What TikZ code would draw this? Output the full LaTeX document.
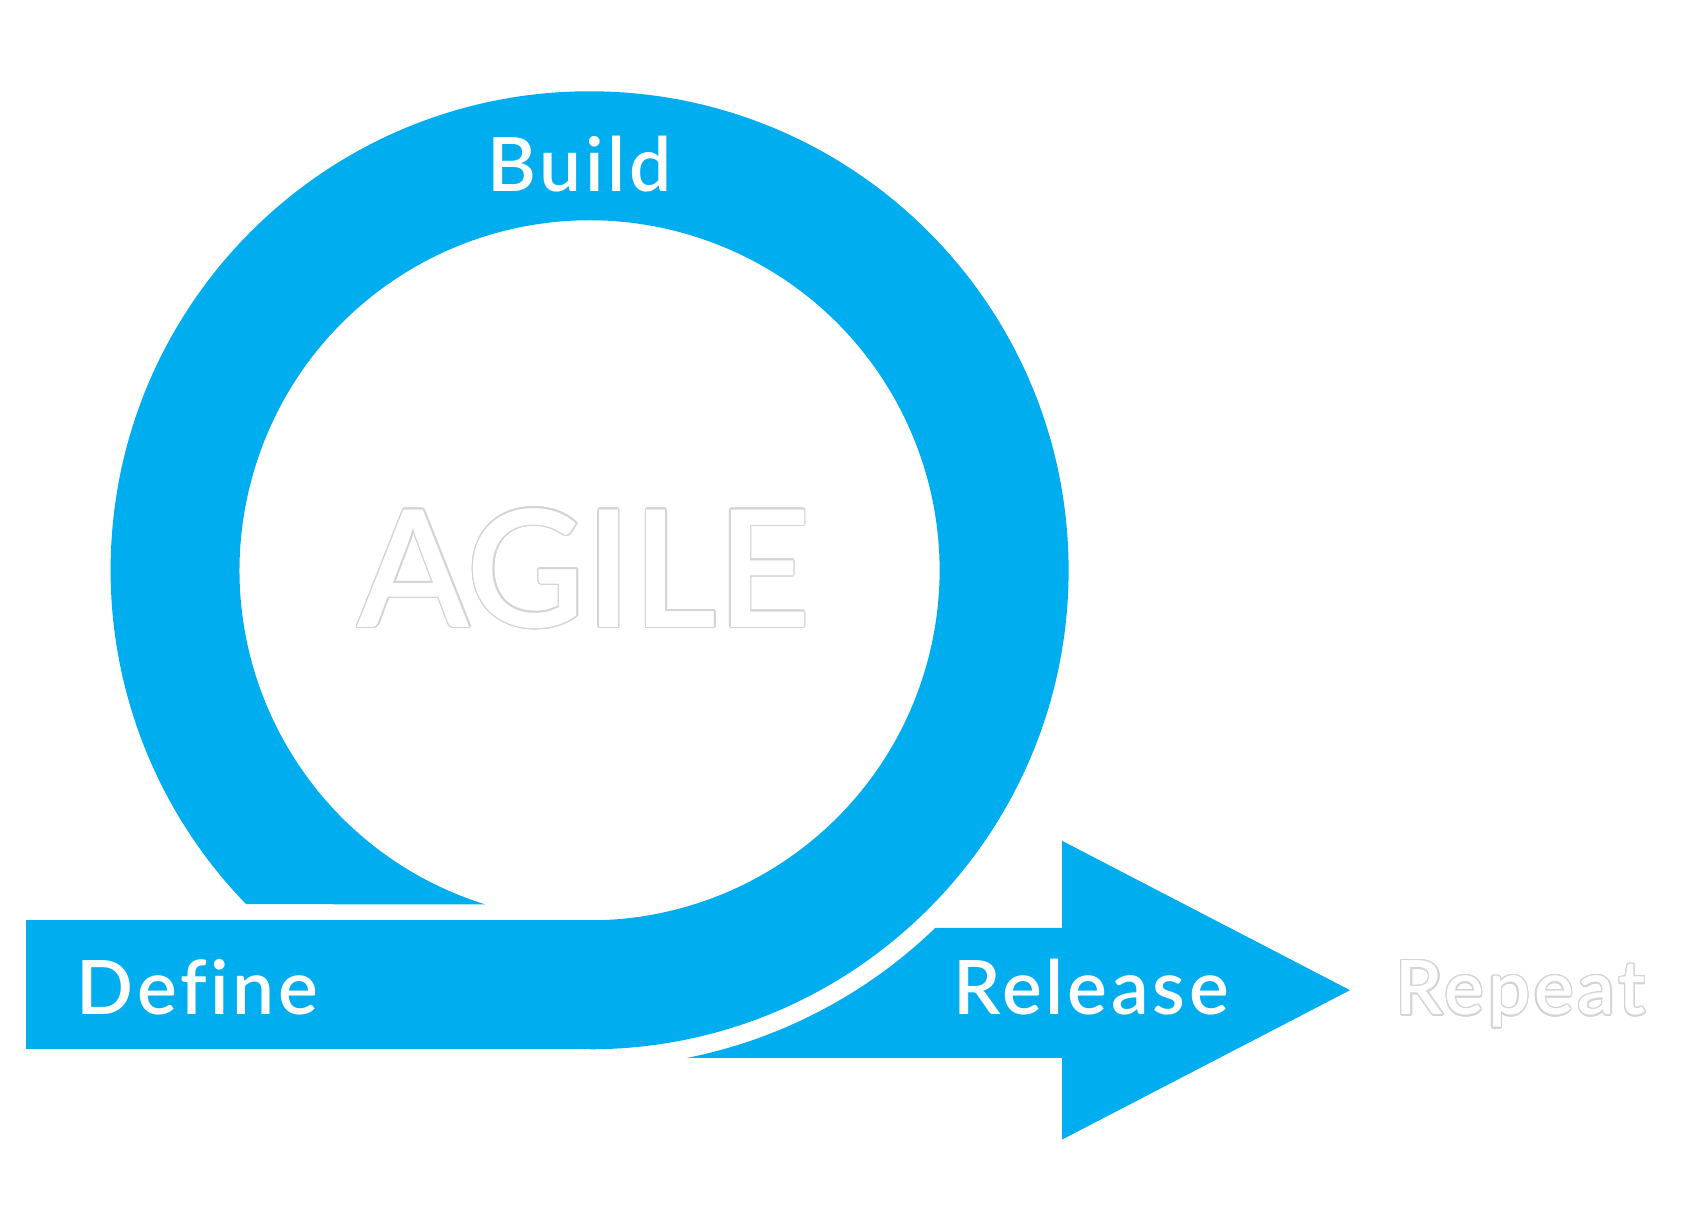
\documentclass[tikz,border=0pt]{standalone}
\usepackage{fontspec}
\setmainfont{Lato}
\newfontfamily\phasefont{Lato Semibold}[LetterSpace=5,Ligatures=NoCommon]
\newfontfamily\titlefont{Lato Semibold}
\usepackage{contour}
\contourlength{0.4pt}
\definecolor{agileblue}{RGB}{0,173,238}
\definecolor{rimgrey}{RGB}{212,212,212}
\tikzset{
  phasetext/.style={text=white,font=\fontsize{21.3}{24}\phasefont,inner sep=0pt,anchor=base},
  titletext/.style={text=white,font=\fontsize{46.4}{50}\titlefont,inner sep=0pt,anchor=base},
}
\begin{document}
\begin{tikzpicture}[x=0.01cm,y=0.01cm,line join=round]
	\useasboundingbox (0,0) rectangle (1684,1227);
	% define band and ring
	\fill[agileblue] (25.8,177.7) rectangle (600,306.7);
	\fill[agileblue] (589.6,177.7) arc[start angle=270,end angle=584.2,radius=479]
	-- (484.9,322.7) arc[start angle=612.6,end angle=270,radius=350] -- cycle;
	% release arrow
	\fill[agileblue] (935.1,299.1) -- (1062.2,299.1) -- (1062.2,386.1) -- (1350,236.8)
	-- (1062.2,87.5) -- (1062.2,169.1) -- (687.2,169.1) arc[start angle=-78.7,end angle=-46,radius=497.3] -- cycle;
	% labels
	\node[phasetext] (build) at (580,1035.8) {Build};
	\node[phasetext] (define) at (197.6,212.1) {Define};
	\node[phasetext] (release) at (1091.2,212.1) {Release};
	\node[phasetext] (repeat) at (1520.8,212.1) {\contour{rimgrey}{Repeat}};
	\node[titletext] (agile) at (584.2,599.8) {\contour{rimgrey}{AGILE}};
\end{tikzpicture}
\end{document}
